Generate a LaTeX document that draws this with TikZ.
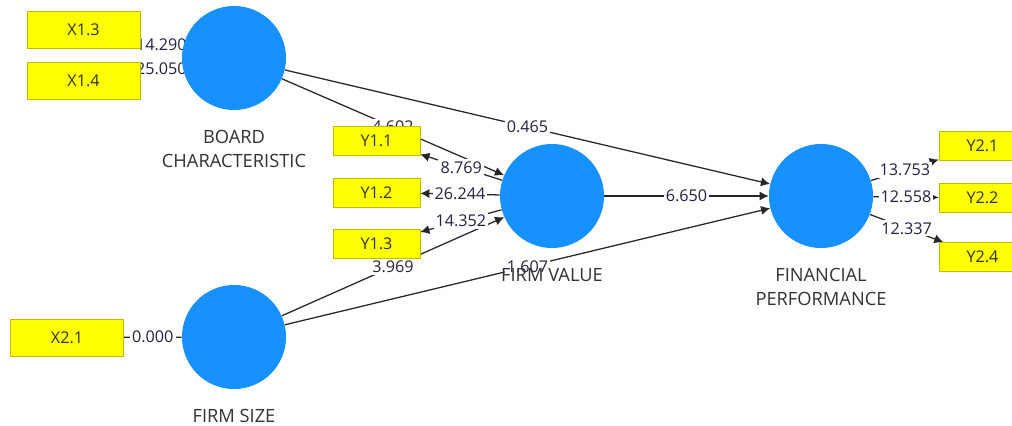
\documentclass[tikz,border=0pt]{standalone}
\usepackage{fontspec}
\setsansfont{Open Sans}
\usepackage{xcolor}
\usepackage{tikz}
\usetikzlibrary{positioning, arrows.meta, backgrounds}
\definecolor{plsBlue}{RGB}{22, 145, 255}
\definecolor{plsYellow}{RGB}{255, 255, 0}
\definecolor{plsOlive}{RGB}{190, 190, 0}
\definecolor{plsInk}{RGB}{35, 35, 60}
\definecolor{plsGray}{RGB}{50, 50, 50}
\tikzset{
    base/.style={
        font=\sffamily,
        align=center
    },
    construct/.style={
        base,
        circle,
        fill=plsBlue,
        minimum size=2.6cm,
        inner sep=0pt
    },
    indicator/.style={
        base,
        rectangle,
        draw=plsOlive,
        fill=plsYellow,
        text=plsGray,
        minimum width=2.175cm,
        minimum height=0.725cm,
        inner sep=0pt,
        font=\sffamily\fontsize{11.5}{13}\selectfont
    },
    wide/.style={
        minimum width=2.825cm,
        minimum height=0.925cm
    },
    caption/.style={
        base,
        text=plsGray,
        inner sep=0pt,
        font=\sffamily\fontsize{13}{16.5}\selectfont
    },
    relation/.style={
        -{Latex[length=6.5pt, width=6.5pt]},
        line width=0.9pt,
        color=black!85
    },
    link/.style={
        line width=0.9pt,
        color=black!85
    },
    estimate/.style={
        base,
        font=\sffamily\fontsize{11.5}{13}\selectfont,
        text=plsInk,
        fill=white,
        inner sep=1.5pt
    }
}

\begin{document}
\begin{tikzpicture}[x=0.025cm, y=-0.025cm]
    \clip (0,0) rectangle (1012,426);

    % Constructs
    \node[construct] (board) at (234,58) {};
    \node[construct] (value) at (552,196) {};
    \node[construct] (perf) at (821,196) {};
    \node[construct] (size) at (234,337) {};

    % Construct names
    \node[caption, below=5mm of board] (boardname) {BOARD\\CHARACTERISTIC};
    \node[caption, below=5mm of value] (valuename) {FIRM VALUE};
    \node[caption, below=5mm of perf] (perfname) {FINANCIAL\\PERFORMANCE};
    \node[caption, below=5mm of size] (sizename) {FIRM SIZE};

    % Indicators
    \node[indicator, wide] (x13) at (83.5,29.5) {X1.3};
    \node[indicator, wide] (x14) at (83.5,81) {X1.4};
    \node[indicator, wide] (x21) at (67,337.5) {X2.1};
    \node[indicator] (y11) at (376.5,140.5) {Y1.1};
    \node[indicator] (y12) at (376.5,192.5) {Y1.2};
    \node[indicator] (y13) at (376.5,244) {Y1.3};
    \node[indicator] (y21) at (982.5,146) {Y2.1};
    \node[indicator] (y22) at (982.5,198) {Y2.2};
    \node[indicator] (y24) at (982.5,257) {Y2.4};

    % Paths and loadings
    \begin{scope}[on background layer]
        \draw[relation] (board) -- node[estimate] {4.602} (value);
        \draw[relation] (board) -- node[estimate] {0.465} (perf);
        \draw[relation] (value) -- node[estimate] {6.650} (perf);
        \draw[relation] (size) -- node[estimate] {3.969} (value);
        \draw[relation] (size) -- node[estimate] {1.607} (perf);

        \draw[relation] (value) -- node[estimate] {8.769} (y11);
        \draw[relation] (value) -- node[estimate] {26.244} (y12);
        \draw[relation] (value) -- node[estimate] {14.352} (y13);
        \draw[relation] (perf) -- node[estimate] {13.753} (y21);
        \draw[relation] (perf) -- node[estimate] {12.558} (y22);
        \draw[relation] (perf) -- node[estimate] {12.337} (y24);

        \draw[link] (x13) -- node[estimate] {14.290} (board);
        \draw[link] (x14) -- node[estimate] {25.050} (board);
        \draw[link] (x21) -- node[estimate] {0.000} (size);
    \end{scope}
\end{tikzpicture}
\end{document}
